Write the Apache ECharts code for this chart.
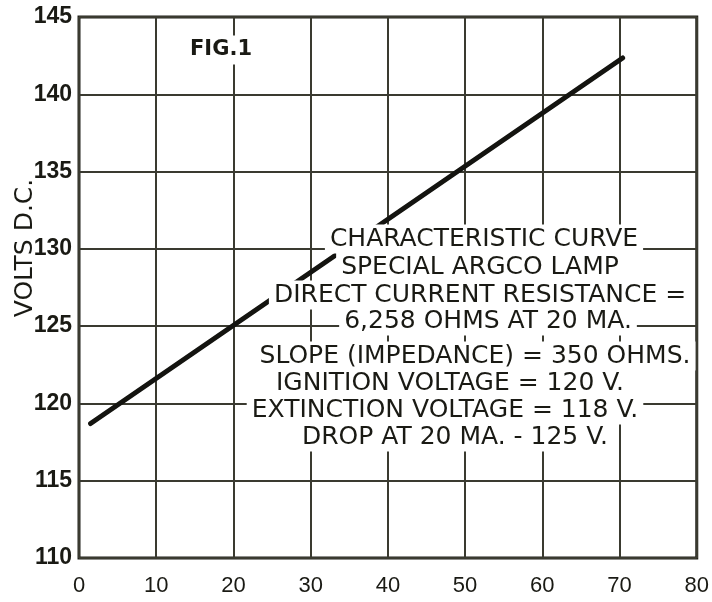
<!DOCTYPE html>
<html><head><meta charset="utf-8">
<script src="https://cdn.jsdelivr.net/npm/echarts@6/dist/echarts.min.js"></script>
<style>html,body{margin:0;padding:0;background:#fff}#c{width:712px;height:602px}</style>
</head><body><div id="c"></div>
<script>
// ---- data ----
const currentMA = [1.5, 70.4];
const voltsDC = [118.7, 142.35];
const xTicks = [0, 10, 20, 30, 40, 50, 60, 70, 80];
const yTicks = [110, 115, 120, 125, 130, 135, 140, 145];
const figTitle = 'FIG.1';
const yAxisTitle = 'VOLTS D.C.';
const noteLines = [
  'CHARACTERISTIC CURVE',
  'SPECIAL ARGCO LAMP',
  'DIRECT CURRENT RESISTANCE =',
  '6,258 OHMS AT 20 MA.',
  'SLOPE (IMPEDANCE) = 350 OHMS.',
  'IGNITION VOLTAGE = 120 V.',
  'EXTINCTION VOLTAGE = 118 V.',
  'DROP AT 20 MA. - 125 V.'
];

// ---- layout / style ----
const INK = '#1a1a14';
const GRIDC = '#3a3a30';
const FONT = '"DejaVu Sans", sans-serif';
const LFONT = '"Liberation Sans", Arial, sans-serif';
const notePos = [[484,239],[480,267],[480,295],[488,321],[475,356],[450,383],[445,410],[455,437]];

const chart = echarts.init(document.getElementById('c'), null, {renderer: 'canvas'});

const graphics = [];
noteLines.forEach((t, i) => {
  graphics.push({
    type: 'text', z: 100, x: notePos[i][0], y: notePos[i][1],
    style: {
      text: t, fill: INK, font: '25px ' + FONT,
      align: 'center', verticalAlign: 'middle',
      backgroundColor: '#fff', padding: [2, 5], lineHeight: 25
    }
  });
});
graphics.push({
  type: 'text', z: 100, x: 221, y: 50,
  style: { text: figTitle, fill: INK, font: 'bold 21px ' + FONT,
    align: 'center', verticalAlign: 'middle', backgroundColor: '#fff', padding: [4, 4] }
});
graphics.push({
  type: 'text', z: 100, x: 25, y: 248, rotation: Math.PI / 2,
  style: { text: yAxisTitle, fill: INK, font: '25px ' + FONT,
    align: 'center', verticalAlign: 'middle' }
});

chart.setOption({
  animation: false,
  backgroundColor: '#fff',
  grid: { left: 79, top: 17, right: 9, bottom: 44, show: true,
    borderColor: '#20201a', borderWidth: 3, backgroundColor: 'transparent' },
  xAxis: {
    type: 'value', min: xTicks[0], max: xTicks[xTicks.length - 1], interval: 10,
    axisLine: { show: false }, axisTick: { show: false },
    axisLabel: { color: INK, fontFamily: LFONT, fontSize: 22, margin: 17 },
    splitLine: { show: true, lineStyle: { color: GRIDC, width: 2 } }
  },
  yAxis: {
    type: 'value', min: yTicks[0], max: yTicks[yTicks.length - 1], interval: 5,
    axisLine: { show: false }, axisTick: { show: false },
    axisLabel: { color: INK, fontFamily: LFONT, fontWeight: 'bold', fontSize: 23, margin: 7 },
    splitLine: { show: true, lineStyle: { color: GRIDC, width: 2 } }
  },
  series: [{
    type: 'line', data: currentMA.map((x, i) => [x, voltsDC[i]]),
    showSymbol: false, symbol: 'none',
    lineStyle: { color: '#141410', width: 5, cap: 'round' }
  }],
  graphic: graphics
});
</script></body></html>
